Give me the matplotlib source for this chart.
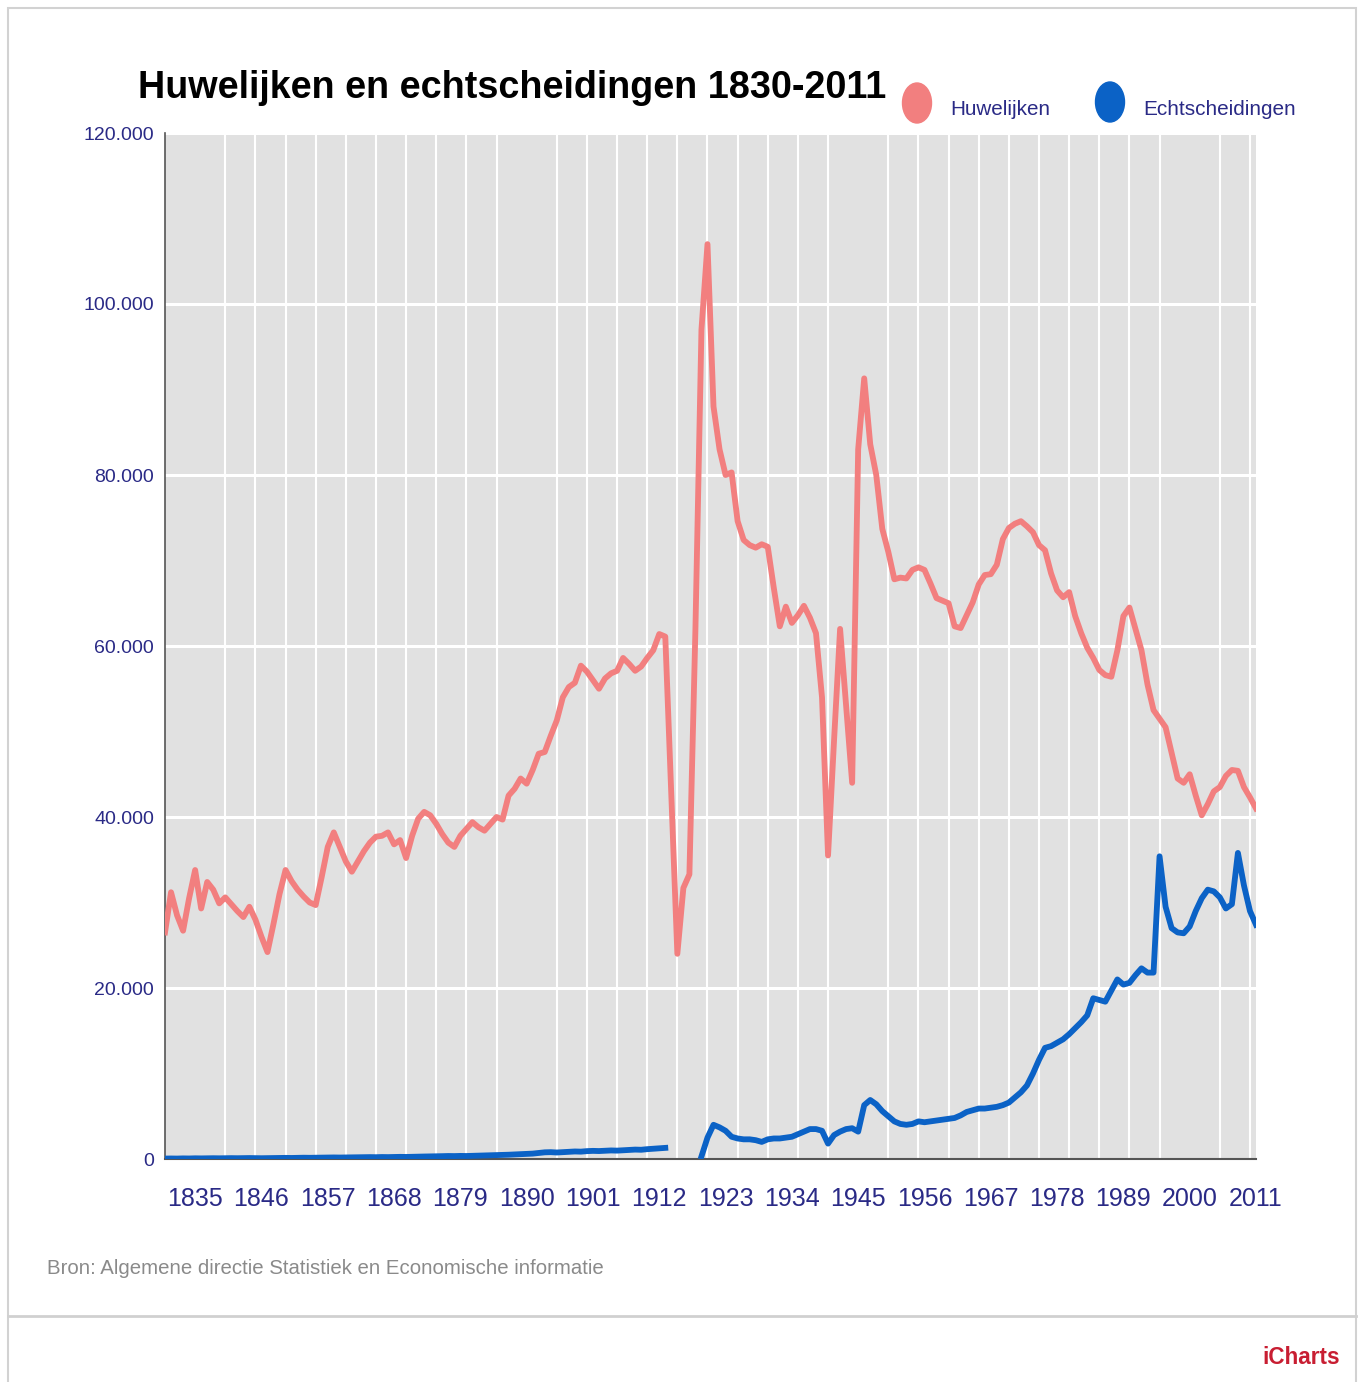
import numpy as np
import matplotlib
matplotlib.use('Agg')
import matplotlib.pyplot as plt
from matplotlib import font_manager
from matplotlib.patches import Ellipse, Rectangle
from matplotlib.lines import Line2D
from matplotlib.ticker import FuncFormatter, MultipleLocator

W, H = 1362, 1382

avail = {f.name for f in font_manager.fontManager.ttflist}
narrow = 'Liberation Sans Narrow' if 'Liberation Sans Narrow' in avail else 'Liberation Sans'

years = list(range(1830, 2012))

# huwelijken, in duizenden
huwelijken = [
    26.5, 31.2, 28.5, 26.7, 30.5, 33.8, 29.3, 32.4, 31.5, 29.9,
    30.6, 29.8, 29.0, 28.3, 29.5, 28.0, 26.0, 24.2, 27.5, 31.0,
    33.8, 32.5, 31.5, 30.7, 30.0, 29.7, 33.0, 36.5, 38.2, 36.5,
    34.8, 33.6, 34.8, 36.0, 37.0, 37.7, 37.8, 38.2, 36.8, 37.3,
    35.2, 37.8, 39.8, 40.6, 40.2, 39.2, 38.0, 37.0, 36.5, 37.8,
    38.6, 39.4, 38.8, 38.4, 39.2, 40.0, 39.7, 42.5, 43.3, 44.5,
    43.9, 45.5, 47.4, 47.6, 49.5, 51.3, 54.0, 55.2, 55.7, 57.7,
    57.0, 56.0, 55.0, 56.2, 56.8, 57.1, 58.6, 57.9, 57.1, 57.6,
    58.6, 59.5, 61.4, 61.1, 42.5, 24.0, 31.7, 33.3, 62.0, 97.0,
    107.0, 88.0, 83.0, 80.0, 80.3, 74.6, 72.4, 71.8, 71.5, 71.9,
    71.6, 66.8, 62.3, 64.6, 62.7, 63.6, 64.7, 63.3, 61.5, 54.0,
    35.5, 49.0, 62.0, 53.0, 44.0, 83.0, 91.3, 83.6, 80.0, 73.7,
    71.0, 67.8, 68.0, 67.9, 68.9, 69.2, 68.9, 67.3, 65.6, 65.3,
    65.0, 62.3, 62.1, 63.6, 65.1, 67.2, 68.3, 68.4, 69.5, 72.5,
    73.8, 74.3, 74.6, 74.0, 73.3, 71.8, 71.2, 68.5, 66.5, 65.7,
    66.3, 63.5, 61.5, 59.8, 58.6, 57.2, 56.6, 56.4, 59.5, 63.5,
    64.5, 62.0, 59.5, 55.5, 52.5, 51.5, 50.5, 47.5, 44.5, 44.0,
    45.0, 42.5, 40.2, 41.5, 43.0, 43.5, 44.8, 45.5, 45.4, 43.5,
    42.3, 41.0,
]

# echtscheidingen, in duizenden (geen gegevens 1914-1918)
nan = float('nan')
echtscheidingen = [
    0.05, 0.06, 0.05, 0.07, 0.06, 0.08, 0.07, 0.08, 0.09, 0.08,
    0.09, 0.10, 0.09, 0.10, 0.11, 0.10, 0.09, 0.10, 0.11, 0.12,
    0.13, 0.12, 0.14, 0.15, 0.14, 0.15, 0.16, 0.17, 0.18, 0.17,
    0.18, 0.20, 0.19, 0.21, 0.22, 0.21, 0.23, 0.22, 0.24, 0.25,
    0.24, 0.26, 0.28, 0.29, 0.30, 0.31, 0.33, 0.35, 0.34, 0.36,
    0.35, 0.37, 0.40, 0.42, 0.44, 0.45, 0.48, 0.50, 0.53, 0.56,
    0.60, 0.63, 0.70, 0.78, 0.80, 0.76, 0.80, 0.85, 0.88, 0.86,
    0.92, 0.95, 0.93, 0.97, 1.00, 0.98, 1.02, 1.06, 1.10, 1.08,
    1.15, 1.20, 1.25, 1.30, nan, nan, nan, nan, nan, 0.3,
    2.5, 4.0, 3.7, 3.3, 2.6, 2.4, 2.3, 2.3, 2.2, 2.0,
    2.3, 2.4, 2.4, 2.5, 2.6, 2.9, 3.2, 3.5, 3.5, 3.3,
    1.8, 2.8, 3.2, 3.5, 3.6, 3.2, 6.3, 6.9, 6.4, 5.6,
    5.0, 4.4, 4.1, 4.0, 4.1, 4.4, 4.3, 4.4, 4.5, 4.6,
    4.7, 4.8, 5.1, 5.5, 5.7, 5.9, 5.9, 6.0, 6.1, 6.3,
    6.6, 7.2, 7.8, 8.6, 10.0, 11.6, 13.0, 13.2, 13.6, 14.0,
    14.6, 15.3, 16.0, 16.8, 18.8, 18.6, 18.4, 19.7, 21.0, 20.4,
    20.6, 21.5, 22.3, 21.8, 21.8, 35.4, 29.5, 27.0, 26.5, 26.4,
    27.2, 29.0, 30.5, 31.5, 31.3, 30.6, 29.3, 29.8, 35.8, 32.0,
    29.0, 27.4,
]

tick_years = list(range(1835, 2012, 11))
title = 'Huwelijken en echtscheidingen 1830-2011'
series_names = ['Huwelijken', 'Echtscheidingen']
bron = 'Bron: Algemene directie Statistiek en Economische informatie'

pink = '#f27f7f'
blue = '#0b62c6'
navy = '#2a2a86'

fig = plt.figure(figsize=(W / 100, H / 100), dpi=100)
fig.patch.set_facecolor('white')


def fx(px):
    return px / W


def fy(py):
    return 1 - py / H


ax = fig.add_axes([fx(165), fy(1159), fx(1256 - 165), (1159 - 133) / H])
ax.set_facecolor('#e1e1e1')

x = np.array(years)
ax.plot(x, np.array(huwelijken) * 1000, color=pink, lw=4.2, solid_joinstyle='round', zorder=3)
ax.plot(x, np.array(echtscheidingen) * 1000, color=blue, lw=4.2, solid_joinstyle='round', zorder=4)

ax.set_xlim(1830, 2011)
ax.set_ylim(0, 120000)
ax.yaxis.set_major_locator(MultipleLocator(20000))
ax.yaxis.set_major_formatter(FuncFormatter(lambda v, p: f'{int(v):,}'.replace(',', '.')))
ax.set_xticks(tick_years)
ax.set_xticks(list(range(1835, 2011, 5)), minor=True)

ax.grid(which='minor', axis='x', color='white', lw=1.5)
ax.grid(which='major', axis='y', color='white', lw=2.2)
ax.grid(which='major', axis='x', visible=False)
ax.set_axisbelow(True)

for side in ['top', 'right']:
    ax.spines[side].set_visible(False)
ax.spines['left'].set_color('#555555')
ax.spines['left'].set_linewidth(1.2)
ax.spines['bottom'].set_color('#555555')
ax.spines['bottom'].set_linewidth(1.5)

ax.tick_params(axis='both', which='both', length=0)
ax.tick_params(axis='x', pad=20, labelsize=18, labelcolor=navy)
ax.tick_params(axis='y', pad=8, labelsize=14, labelcolor=navy)
for lab in ax.get_xticklabels() + ax.get_yticklabels():
    lab.set_family(narrow)


def fit(t, target):
    fig.canvas.draw()
    w = t.get_window_extent().width
    t.set_fontsize(t.get_fontsize() * target / w)


t = fig.text(fx(138), fy(98), title, fontsize=36, weight='bold', family=narrow, color='black')
fit(t, 750)

# legenda
fig.patches.append(Ellipse((fx(917), fy(103)), fx(29), 40 / H, color=pink, transform=fig.transFigure))
fig.patches.append(Ellipse((fx(1110), fy(102)), fx(29), 40 / H, color=blue, transform=fig.transFigure))
l1 = fig.text(fx(950), fy(115), series_names[0], fontsize=20, family=narrow, color=navy)
fit(l1, 100)
l2 = fig.text(fx(1143), fy(115), series_names[1], fontsize=20, family=narrow, color=navy)
fit(l2, 152)

s = fig.text(fx(47), fy(1274), bron, fontsize=16, family=narrow, color='#8a8a8a')
fit(s, 558)

ic = fig.text(fx(1340), fy(1364), 'iCharts', fontsize=24, family=narrow, weight='bold',
              color='#c81e32', ha='right')
fit(ic, 78)

# kader
fig.patches.append(Rectangle((fx(8), -0.01), fx(1356 - 8), fy(8) + 0.01, fill=False,
                             edgecolor='#d2d2d2', lw=1.5, transform=fig.transFigure))
fig.add_artist(Line2D([fx(8), fx(1356)], [fy(1316), fy(1316)], color='#d0d0d0', lw=2,
                      transform=fig.transFigure))

fig.savefig('out.png', dpi=100)
